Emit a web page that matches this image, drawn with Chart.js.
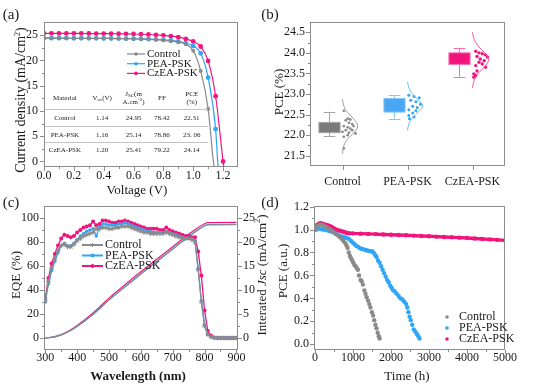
<!DOCTYPE html>
<html>
<head>
<meta charset="utf-8">
<script src="https://cdn.jsdelivr.net/npm/chart.js@4.4.1/dist/chart.umd.min.js"></script>
<style>
  body { margin: 0; background: #fff; }
  #wrap { position: relative; width: 534px; height: 386px; overflow: hidden; font-family: "Liberation Serif", serif; color: #1a1a1a; }
  canvas { position: absolute; }
  .lbl { position: absolute; white-space: nowrap; line-height: 1; transform: translate(-50%, -50%); }
  .rot { transform: translate(-50%, -50%) rotate(-90deg); }
</style>
</head>
<body>
<div id="wrap">
  <canvas id="ca" style="left:0;top:0" width="267" height="193"></canvas>
  <canvas id="cb" style="left:267px;top:0" width="267" height="193"></canvas>
  <canvas id="cc" style="left:0;top:193px" width="267" height="193"></canvas>
  <canvas id="cd" style="left:267px;top:193px" width="267" height="193"></canvas>

  <div class="lbl" style="left:11px;top:14px;font-size:15px">(a)</div>
  <div class="lbl" style="left:270px;top:14px;font-size:15px">(b)</div>
  <div class="lbl" style="left:11px;top:202px;font-size:15px">(c)</div>
  <div class="lbl" style="left:270px;top:202px;font-size:15px">(d)</div>

  <div class="lbl rot" style="left:21px;top:100px;font-size:14px">Current density (mA/cm<sup style="font-size:8px">2</sup>)</div>
  <div class="lbl" style="left:137px;top:189px;font-size:13px">Voltage (V)</div>
  <div class="lbl rot" style="left:278px;top:92px;font-size:13px">PCE (%)</div>
  <div class="lbl rot" style="left:15px;top:275px;font-size:13px">EQE (%)</div>
  <div class="lbl rot" style="left:261px;top:275px;font-size:13px">Interated <i>Jsc</i> (mA/cm<sup style="font-size:8px">2</sup>)</div>
  <div class="lbl" style="left:138px;top:375px;font-size:13px;font-weight:bold">Wavelength (nm)</div>
  <div class="lbl rot" style="left:282px;top:271px;font-size:13px">PCE (a.u.)</div>
  <div class="lbl" style="left:407px;top:375px;font-size:13px">Time (h)</div>
</div>
<script>
// colours of the three devices
const gray = "#8a8a8a", blue = "#2ea6f5", pink = "#f0157d";
const names = ["Control", "PEA-PSK", "CzEA-PSK"];

// (a) J-V curves
const ctrlV = [0, 0.05, 0.1, 0.15, 0.2, 0.25, 0.3, 0.35, 0.4, 0.45, 0.5, 0.55, 0.6, 0.65, 0.7, 0.75, 0.8, 0.85, 0.9, 0.95, 1.0, 1.05, 1.1, 1.135, 1.145];
const ctrlJ = [24.4, 24.4, 24.39, 24.39, 24.38, 24.38, 24.37, 24.36, 24.35, 24.34, 24.32, 24.3, 24.27, 24.23, 24.17, 24.09, 23.97, 23.81, 23.57, 23.2, 21.9, 17.9, 10.4, 0, -2];
const peaV = [0, 0.05, 0.1, 0.15, 0.2, 0.25, 0.3, 0.35, 0.4, 0.45, 0.5, 0.55, 0.6, 0.65, 0.7, 0.75, 0.8, 0.85, 0.9, 0.95, 1.0, 1.05, 1.1, 1.15, 1.164, 1.17];
const peaJ = [24.4, 24.4, 24.39, 24.39, 24.38, 24.38, 24.37, 24.36, 24.35, 24.34, 24.32, 24.3, 24.28, 24.25, 24.21, 24.15, 24.07, 23.95, 23.75, 23.4, 22.9, 21.4, 16.6, 6.4, 0, -2];
const czV = [0, 0.05, 0.1, 0.15, 0.2, 0.25, 0.3, 0.35, 0.4, 0.45, 0.5, 0.55, 0.6, 0.65, 0.7, 0.75, 0.8, 0.85, 0.9, 0.95, 1.0, 1.05, 1.1, 1.15, 1.2, 1.208];
const czJ = [25.35, 25.35, 25.34, 25.34, 25.33, 25.33, 25.32, 25.31, 25.3, 25.29, 25.27, 25.25, 25.22, 25.18, 25.13, 25.06, 24.96, 24.82, 24.6, 24.25, 23.75, 22.75, 19.9, 12.9, 0, -2];
const aXTicks = [0, 0.2, 0.4, 0.6, 0.8, 1.0, 1.2], aXMinor = [0.1, 0.3, 0.5, 0.7, 0.9, 1.1];
const aYTicks = [0, 5, 10, 15, 20, 25], aYMinor = [2.5, 7.5, 12.5, 17.5, 22.5];

// (a) inset table
const tableHead = [
  [[["Material", 0]]],
  [[["V", 0], ["oc", 1], ["(V)", 0]]],
  [[["J", 0], ["SC", 1], ["(m", 0]], [["A.cm", 0], ["-2", 2], [")", 0]]],
  [[["FF", 0]]],
  [[["PCE", 0]], [["(%)", 0]]],
];
const tableRows = [
  ["Control", "1.14", "24.95", "78.42", "22.31"],
  ["PEA-PSK", "1.16", "25.14", "78.86", "23. 06"],
  ["CzEA-PSK", "1.20", "25.41", "79.22", "24.14"],
];
const tableColV = [0.14, 0.39, 0.6, 0.79, 0.99];
const tableHeadJ = 12.6, tableRowJ = [8.5, 5.3, 2.2], tableRuleJ = [10.3, 7.0, 3.8];

// (b) PCE statistics
const boxLow = [21.98, 22.4, 23.42], boxQ1 = [22.06, 22.56, 23.72], boxQ3 = [22.31, 22.89, 24.0], boxHigh = [22.57, 22.97, 24.11];
const ctrlDotY = [22.59, 22.4, 22.38, 22.36, 22.3, 22.27, 22.22, 22.22, 22.19, 22.16, 22.12, 22.12, 22.08, 22.06, 22.04, 22.0, 21.96, 21.68];
const ctrlDotX = [1.02, 1.08, 1.12, 1.05, 1.1, 1.15, 1.02, 1.17, 1.08, 1.12, 1.05, 1.15, 1.0, 1.1, 1.2, 1.08, 1.02, 1.02];
const peaDotY = [22.97, 22.94, 22.91, 22.85, 22.81, 22.75, 22.7, 22.67, 22.62, 22.59, 22.54, 22.48, 22.44, 22.4];
const peaDotX = [2.02, 2.1, 2.18, 2.05, 2.13, 2.2, 2.08, 2.15, 2.02, 2.13, 2.08, 2.02, 2.1, 2.03];
const czDotY = [24.04, 24.0, 23.98, 23.95, 23.91, 23.9, 23.85, 23.81, 23.77, 23.73, 23.69, 23.65, 23.56, 23.49, 23.45, 23.41];
const czDotX = [3.05, 3.1, 3.15, 3.2, 3.07, 3.23, 3.12, 3.18, 3.1, 3.15, 3.05, 3.2, 3.07, 3.02, 3.05, 3.02];
const ctrlFitY = [22.87, 22.7, 22.55, 22.4, 22.22, 22.05, 21.9, 21.75, 21.55];
const ctrlFitX = [1.0, 1.022, 1.076, 1.169, 1.233, 1.169, 1.076, 1.022, 1.0];
const peaFitY = [23.3, 23.15, 23.0, 22.85, 22.71, 22.57, 22.42, 22.27, 22.12];
const peaFitX = [2.0, 2.022, 2.076, 2.169, 2.233, 2.169, 2.076, 2.022, 2.0];
const czFitY = [24.5, 24.33, 24.17, 24.0, 23.84, 23.66, 23.5, 23.33, 23.15];
const czFitX = [3.0, 3.025, 3.085, 3.186, 3.248, 3.186, 3.085, 3.025, 3.0];
const bYTicks = [21.5, 22.0, 22.5, 23.0, 23.5, 24.0, 24.5], bYMinor = [21.75, 22.25, 22.75, 23.25, 23.75, 24.25];
const bXTicks = [1, 2, 3];

// (c) EQE and integrated Jsc
const eqeWl = [300, 310, 320, 330, 340, 350, 360, 370, 380, 390, 400, 410, 420, 430, 440, 450, 460, 470, 480, 490, 500, 510, 520, 530, 540, 550, 560, 570, 580, 590, 600, 610, 620, 630, 640, 650, 660, 670, 680, 690, 700, 710, 720, 730, 740, 750, 760, 770, 780, 790, 800, 810, 820, 830, 840, 850, 860, 870, 880, 890, 900];
const ctrlEqe = [31, 47, 58, 66, 73, 77, 78, 76, 76, 78, 81, 83, 85, 86, 87, 88, 91, 91, 92, 92, 91, 91, 92, 92, 93, 93, 93, 92, 91, 90, 89, 88, 88, 87, 87, 87, 87, 87, 88, 87, 86, 85, 84, 83, 83, 83, 82, 80, 57, 30, 10, 3, 1, 0.3, 0, 0, 0, 0, 0, 0, 0];
const peaEqe = [30, 45, 56, 64, 71, 77, 79, 77, 77, 79, 82, 85, 87, 89, 90, 91, 85, 92, 95, 95, 94, 94, 94, 95, 95, 96, 95, 94, 93, 92, 91, 90, 89, 89, 88, 88, 88, 88, 89, 88, 87, 86, 85, 84, 83, 83, 83, 81, 58, 31, 11, 3, 1, 0.3, 0, 0, 0, 0, 0, 0, 0];
const czEqe = [33, 50, 62, 70, 77, 83, 86, 85, 84, 85, 88, 90, 92, 93, 94, 97, 94, 95, 98, 98, 97, 96, 96, 97, 97, 98, 97, 96, 95, 94, 93, 92, 91, 91, 91, 91, 90, 90, 92, 90, 89, 88, 87, 86, 85, 85, 84, 84, 72, 52, 23, 6, 2, 0.5, 0, 0, 0, 0, 0, 0, 0];
const jscWl = [300, 325, 350, 375, 400, 450, 500, 550, 600, 650, 700, 750, 780, 800, 810, 900];
const ctrlJsc = [0, 0.2, 0.65, 1.4, 2.4, 4.9, 7.9, 10.6, 13.3, 15.9, 18.5, 21.1, 22.5, 23.35, 23.55, 23.6];
const peaJsc = [0, 0.2, 0.65, 1.4, 2.45, 4.95, 7.95, 10.7, 13.4, 16.0, 18.6, 21.2, 22.6, 23.45, 23.65, 23.7];
const czJsc = [0, 0.2, 0.7, 1.5, 2.6, 5.2, 8.3, 11.1, 13.8, 16.4, 19.0, 21.6, 23.0, 23.8, 24.05, 24.1];
const cXTicks = [300, 400, 500, 600, 700, 800, 900], cXMinor = [350, 450, 550, 650, 750, 850];
const cYTicks = [0, 20, 40, 60, 80, 100], cYMinor = [10, 30, 50, 70, 90];
const cY2Ticks = [0, 5, 10, 15, 20, 25], cY2Minor = [2.5, 7.5, 12.5, 17.5, 22.5];

// (d) stability
const ctrlT = [0, 30, 60, 100, 150, 200, 250, 300, 350, 400, 450, 500, 550, 600, 650, 700, 750, 800, 830, 860, 890, 920, 950, 980, 1010, 1040, 1070, 1100, 1130, 1160, 1200, 1230, 1260, 1300, 1330, 1360, 1400, 1430, 1460, 1500, 1530, 1560, 1590, 1620, 1650, 1680, 1700];
const ctrlP = [1.0, 1.02, 1.03, 1.04, 1.045, 1.04, 1.03, 1.02, 1.01, 1.0, 0.99, 0.975, 0.96, 0.95, 0.935, 0.92, 0.9, 0.88, 0.86, 0.84, 0.8, 0.77, 0.75, 0.73, 0.71, 0.69, 0.68, 0.665, 0.65, 0.6, 0.56, 0.55, 0.52, 0.47, 0.44, 0.41, 0.38, 0.35, 0.32, 0.28, 0.25, 0.21, 0.17, 0.14, 0.1, 0.07, 0.05];
const peaT = [0, 50, 100, 150, 200, 250, 300, 350, 400, 450, 500, 550, 600, 650, 700, 750, 800, 850, 900, 950, 1000, 1050, 1100, 1150, 1200, 1250, 1300, 1350, 1400, 1450, 1500, 1540, 1580, 1620, 1660, 1700, 1740, 1780, 1820, 1860, 1900, 1940, 1980, 2020, 2060, 2100, 2150, 2200, 2250, 2300, 2350, 2400, 2430, 2460, 2490, 2520, 2560, 2600, 2640, 2680, 2720, 2750];
const peaP = [1.0, 1.0, 1.01, 1.005, 1.0, 1.0, 0.995, 0.99, 0.985, 0.98, 0.975, 0.965, 0.955, 0.945, 0.94, 0.935, 0.93, 0.925, 0.915, 0.9, 0.885, 0.87, 0.855, 0.845, 0.835, 0.83, 0.825, 0.82, 0.815, 0.81, 0.81, 0.8, 0.78, 0.76, 0.73, 0.71, 0.68, 0.65, 0.62, 0.59, 0.56, 0.54, 0.51, 0.49, 0.47, 0.46, 0.44, 0.42, 0.4, 0.39, 0.37, 0.35, 0.32, 0.28, 0.24, 0.21, 0.17, 0.13, 0.11, 0.09, 0.07, 0.05];
const czT = [0, 30, 60, 100, 150, 200, 250, 300, 350, 400, 450, 500, 550, 600, 650, 700, 750, 800, 850, 900, 1000, 1200, 1400, 1600, 1800, 2000, 2200, 2400, 2600, 2800, 3000, 3200, 3400, 3600, 3800, 4000, 4200, 4400, 4600, 4800, 5000];
const czP = [1.0, 1.02, 1.04, 1.05, 1.055, 1.05, 1.045, 1.04, 1.035, 1.03, 1.02, 1.01, 1.0, 0.995, 0.99, 0.985, 0.98, 0.975, 0.97, 0.968, 0.966, 0.964, 0.962, 0.96, 0.957, 0.955, 0.952, 0.95, 0.947, 0.944, 0.941, 0.938, 0.935, 0.932, 0.929, 0.926, 0.922, 0.918, 0.914, 0.91, 0.905];
const dXTicks = [0, 1000, 2000, 3000, 4000, 5000], dXMinor = [500, 1500, 2500, 3500, 4500];
const dYTicks = [0, 0.2, 0.4, 0.6, 0.8, 1.0, 1.2], dYMinor = [0.1, 0.3, 0.5, 0.7, 0.9, 1.1];

Chart.defaults.font.family = "'Liberation Serif', serif";
Chart.defaults.font.size = 12;
Chart.defaults.color = "#1a1a1a";
Chart.defaults.animation = false;
Chart.defaults.responsive = false;
Chart.defaults.plugins.legend.display = false;
Chart.defaults.plugins.tooltip.enabled = false;

const pts = (xs, ys) => xs.map((x, i) => ({ x, y: ys[i] }));
const fmt1 = (v) => Number(v).toFixed(1);
const fmt0 = (v) => String(v);

function axis(pos, min, max, ticks, size, fmt, pad) {
  return {
    type: "linear", position: pos, min, max,
    grid: { display: false, drawTicks: false },
    border: { display: false },
    afterBuildTicks: (s) => { s.ticks = ticks.map((v) => ({ value: v })); },
    afterFit: (s) => { if (s.isHorizontal()) s.height = size; else s.width = size; },
    ticks: { callback: fmt, padding: pad, autoSkip: false, maxRotation: 0 },
  };
}

// box frame plus outward tick marks
const framePlugin = {
  id: "frame",
  afterDraw(chart, args, opts) {
    const { ctx, chartArea: a, scales } = chart;
    ctx.save();
    ctx.strokeStyle = "#8c8c8c";
    ctx.lineWidth = 1;
    ctx.strokeRect(a.left + 0.5, a.top + 0.5, a.right - a.left - 1, a.bottom - a.top - 1);
    const marks = (id, vals, len) => {
      const s = scales[id];
      vals.forEach((v) => {
        const p = Math.round(s.getPixelForValue(v)) + 0.5;
        ctx.beginPath();
        if (s.position === "bottom") { ctx.moveTo(p, a.bottom); ctx.lineTo(p, a.bottom + len); }
        else if (s.position === "left") { ctx.moveTo(a.left, p); ctx.lineTo(a.left - len, p); }
        else { ctx.moveTo(a.right, p); ctx.lineTo(a.right + len, p); }
        ctx.stroke();
      });
    };
    for (const id in opts.marks) {
      marks(id, opts.marks[id][0], 4);
      marks(id, opts.marks[id][1] || [], 2);
    }
    ctx.restore();
  },
};

function marker(ctx, style, x, y, r) {
  ctx.beginPath();
  if (style === "star") {
    for (let k = 0; k < 3; k++) {
      const t = (k * Math.PI) / 3 + Math.PI / 2;
      ctx.moveTo(x - r * Math.cos(t), y - r * Math.sin(t));
      ctx.lineTo(x + r * Math.cos(t), y + r * Math.sin(t));
    }
    ctx.stroke();
    ctx.beginPath();
    ctx.arc(x, y, r * 0.5, 0, Math.PI * 2);
    ctx.fill();
  } else {
    ctx.arc(x, y, r, 0, Math.PI * 2);
    ctx.fill();
  }
}

// in-plot legend built from the datasets
const keyPlugin = {
  id: "key",
  afterDraw(chart, args, o) {
    const { ctx } = chart;
    ctx.save();
    ctx.font = o.font;
    ctx.textBaseline = "middle";
    o.sets.forEach((di, i) => {
      const ds = chart.data.datasets[di];
      const y = o.y + i * o.dy;
      ctx.strokeStyle = ds.borderColor;
      ctx.fillStyle = ds.pointBackgroundColor || ds.borderColor;
      if (o.line) {
        ctx.lineWidth = o.lw;
        ctx.beginPath();
        ctx.moveTo(o.x, y);
        ctx.lineTo(o.x + o.line, y);
        ctx.stroke();
      }
      ctx.lineWidth = 1;
      marker(ctx, ds.pointStyle, o.x + (o.line || 0) / 2, y, o.r);
      ctx.fillStyle = "#1a1a1a";
      ctx.fillText(ds.label, o.x + o.tx, y);
    });
    ctx.restore();
  },
};

// inset table of panel (a)
const tablePlugin = {
  id: "table",
  afterDatasetsDraw(chart) {
    const { ctx, scales: { x, y } } = chart;
    ctx.save();
    ctx.fillStyle = "#222";
    ctx.textBaseline = "middle";
    const runs = (parts, cx, cy) => {
      const fonts = ["7px 'Liberation Serif'", "5px 'Liberation Serif'", "5px 'Liberation Serif'"];
      let w = 0;
      parts.forEach(([t, m]) => { ctx.font = fonts[m]; w += ctx.measureText(t).width; });
      let px = cx - w / 2;
      parts.forEach(([t, m]) => {
        ctx.font = fonts[m];
        ctx.fillText(t, px, cy + (m === 1 ? 2 : m === 2 ? -2 : 0));
        px += ctx.measureText(t).width;
      });
    };
    tableHead.forEach((lines, c) => {
      const cx = x.getPixelForValue(tableColV[c]);
      const cy = y.getPixelForValue(tableHeadJ);
      lines.forEach((parts, l) => runs(parts, cx, cy + (l - (lines.length - 1) / 2) * 8));
    });
    tableRows.forEach((row, r) => {
      row.forEach((t, c) => runs([[t, 0]], x.getPixelForValue(tableColV[c]), y.getPixelForValue(tableRowJ[r])));
    });
    ctx.strokeStyle = "#c4c4c4";
    ctx.lineWidth = 1;
    tableRuleJ.forEach((j) => {
      const py = Math.round(y.getPixelForValue(j)) + 0.5;
      ctx.beginPath();
      ctx.moveTo(x.getPixelForValue(0), py);
      ctx.lineTo(x.getPixelForValue(1.1), py);
      ctx.stroke();
    });
    ctx.restore();
  },
};

// box + whisker of panel (b)
const boxFill = ["#7a7a7a", "#4aa7f3", "#f0157d"];
const boxEdge = ["#a5a5a5", "#86c6f8", "#f76fae"];
const boxPlugin = {
  id: "boxes",
  beforeDatasetsDraw(chart) {
    const { ctx, scales: { x, y } } = chart;
    ctx.save();
    ctx.lineWidth = 1;
    for (let i = 0; i < 3; i++) {
      const cx = Math.round(x.getPixelForValue(i + 1 - 0.21)) + 0.5;
      const hw = x.getPixelForValue(1.163) - x.getPixelForValue(1);
      const cw = x.getPixelForValue(1.09) - x.getPixelForValue(1);
      const yl = y.getPixelForValue(boxLow[i]), yh = y.getPixelForValue(boxHigh[i]);
      const y1 = y.getPixelForValue(boxQ1[i]), y3 = y.getPixelForValue(boxQ3[i]);
      ctx.strokeStyle = boxEdge[i];
      ctx.beginPath();
      ctx.moveTo(cx, yh); ctx.lineTo(cx, yl);
      ctx.moveTo(cx - cw, Math.round(yh) + 0.5); ctx.lineTo(cx + cw, Math.round(yh) + 0.5);
      ctx.moveTo(cx - cw, Math.round(yl) + 0.5); ctx.lineTo(cx + cw, Math.round(yl) + 0.5);
      ctx.stroke();
      ctx.fillStyle = boxFill[i];
      ctx.fillRect(cx - hw, y3, hw * 2, y1 - y3);
      ctx.strokeRect(cx - hw, y3, hw * 2, y1 - y3);
    }
    ctx.restore();
  },
};

// ---------- (a) ----------
const jvSet = (label, xs, ys, color, style, r, nTail) => ({
  label, data: pts(xs, ys), showLine: true, borderColor: color, backgroundColor: color,
  pointBackgroundColor: color, pointBorderColor: color, borderWidth: 1.2, pointStyle: style,
  pointRadius: (c) => (c.dataIndex >= xs.length - nTail ? 0 : r), cubicInterpolationMode: "monotone",
});
new Chart(document.getElementById("ca"), {
  type: "scatter",
  data: {
    datasets: [
      jvSet(names[0], ctrlV, ctrlJ, gray, "circle", 1.4, 2),
      jvSet(names[1], peaV, peaJ, blue, "circle", 1.8, 2),
      jvSet(names[2], czV, czJ, pink, "circle", 1.8, 1),
    ],
  },
  options: {
    layout: { padding: { left: 0, top: 22, right: 29, bottom: 0 } },
    scales: {
      x: axis("bottom", 0, 1.3, aXTicks, 26, fmt1, 2),
      y: axis("left", -1.1, 27.6, aYTicks, 44, fmt0, 6),
    },
    plugins: {
      frame: { marks: { x: [aXTicks, aXMinor], y: [aYTicks, aYMinor] } },
      key: { sets: [0, 1, 2], x: 127, y: 54, dy: 9.7, line: 18, lw: 1.2, r: 1.8, tx: 20, font: "11px 'Liberation Serif'" },
    },
  },
  plugins: [framePlugin, tablePlugin, keyPlugin],
});

// ---------- (b) ----------
const dotSet = (xs, ys, color, r) => ({ data: pts(xs, ys), showLine: false, pointRadius: r, pointBackgroundColor: color, pointBorderWidth: 0 });
const fitSet = (xs, ys, color) => ({ data: pts(xs, ys), showLine: true, borderColor: color, borderWidth: 1, pointRadius: 0, tension: 0.4 });
new Chart(document.getElementById("cb"), {
  type: "scatter",
  data: {
    datasets: [
      fitSet(ctrlFitX, ctrlFitY, "#9a9a9a"),
      fitSet(peaFitX, peaFitY, "#6bb9f7"),
      fitSet(czFitX, czFitY, "#f4549c"),
      dotSet(ctrlDotX, ctrlDotY, "#8a8a8a", 1.4),
      dotSet(peaDotX, peaDotY, blue, 1.5),
      dotSet(czDotX, czDotY, pink, 1.7),
    ],
  },
  options: {
    layout: { padding: { left: 0, top: 22, right: 29, bottom: 0 } },
    scales: {
      x: axis("bottom", 0.5, 3.5, bXTicks, 27, (v) => names[v - 1], 9),
      y: axis("left", 21.25, 24.75, bYTicks, 43, fmt1, 5),
    },
    plugins: { frame: { marks: { x: [bXTicks], y: [bYTicks, bYMinor] } } },
  },
  plugins: [framePlugin, boxPlugin],
});

// ---------- (c) ----------
const eqeSet = (label, ys, color, style, r) => ({
  label, data: pts(eqeWl, ys), yAxisID: "y", showLine: true, borderColor: color, borderWidth: 1.3,
  pointStyle: style, pointRadius: r, pointBackgroundColor: color, pointBorderColor: color, pointBorderWidth: style === "star" ? 1 : 0,
});
const jscSet = (ys, color) => ({
  data: pts(jscWl, ys), yAxisID: "y2", showLine: true, borderColor: color, borderWidth: 1.2, pointRadius: 0, cubicInterpolationMode: "monotone",
});
new Chart(document.getElementById("cc"), {
  type: "scatter",
  data: {
    datasets: [
      eqeSet(names[0], ctrlEqe, gray, "star", 2.4),
      eqeSet(names[1], peaEqe, blue, "circle", 1.7),
      eqeSet(names[2], czEqe, pink, "circle", 2.0),
      jscSet(ctrlJsc, gray),
      jscSet(peaJsc, blue),
      jscSet(czJsc, pink),
    ],
  },
  options: {
    layout: { padding: { left: 0, top: 13, right: 0, bottom: 0 } },
    scales: {
      x: axis("bottom", 296, 905, cXTicks, 36, fmt0, 1),
      y: axis("left", -10, 110, cYTicks, 44, fmt0, 5),
      y2: axis("right", -2.5, 27.5, cY2Ticks, 29, fmt0, 5),
    },
    plugins: {
      frame: { marks: { x: [cXTicks, cXMinor], y: [cYTicks, cYMinor], y2: [cY2Ticks, cY2Minor] } },
      key: { sets: [0, 1, 2], x: 82, y: 52, dy: 10.5, line: 21, lw: 2, r: 2, tx: 23, font: "12px 'Liberation Serif'" },
    },
  },
  plugins: [framePlugin, keyPlugin],
});

// ---------- (d) ----------
const lifeSet = (label, xs, ys, color, line) => ({
  label, data: pts(xs, ys), showLine: line, borderColor: color, borderWidth: line ? 3.4 : 0,
  pointStyle: "circle", pointRadius: 2.2, pointBackgroundColor: color, pointBorderWidth: 0,
});
new Chart(document.getElementById("cd"), {
  type: "scatter",
  data: {
    datasets: [
      lifeSet(names[0], ctrlT, ctrlP, "#8a8a8a", false),
      lifeSet(names[1], peaT, peaP, blue, false),
      lifeSet(names[2], czT, czP, pink, true),
    ],
  },
  options: {
    layout: { padding: { left: 0, top: 13, right: 29, bottom: 0 } },
    scales: {
      x: axis("bottom", -25, 5000, dXTicks, 36, fmt0, 1),
      y: axis("left", -0.05, 1.205, dYTicks, 47, fmt1, 5),
    },
    plugins: {
      frame: { marks: { x: [dXTicks, dXMinor], y: [dYTicks, dYMinor] } },
      key: { sets: [0, 1, 2], x: 180, y: 124, dy: 11, line: 0, lw: 0, r: 1.8, tx: 12, font: "12px 'Liberation Serif'" },
    },
  },
  plugins: [framePlugin, keyPlugin],
});
</script>
</body>
</html>
